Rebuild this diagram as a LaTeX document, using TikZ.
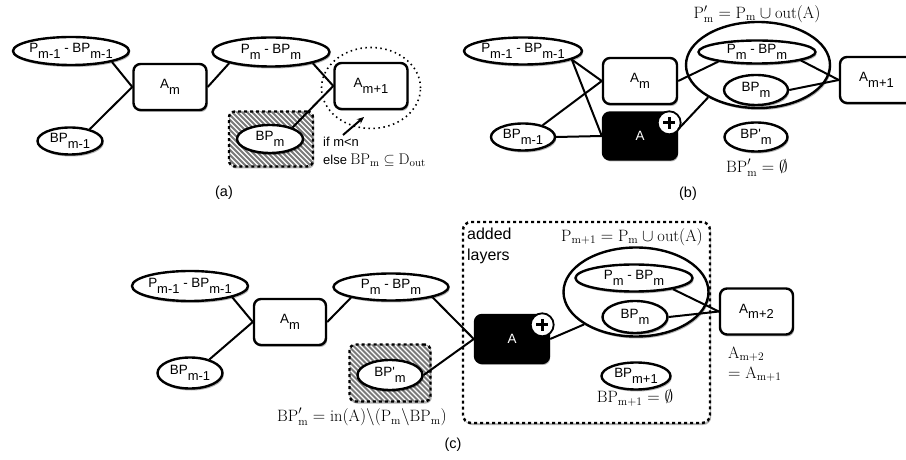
\documentclass[tikz,border=0pt]{standalone}
\usepackage{fontspec}
\newfontfamily\hv{Liberation Sans}
\usetikzlibrary{shapes.geometric,shadows,arrows.meta,calc}
\newcommand\sbx[1]{\raisebox{-5.5bp}{\fontsize{13}{13}\selectfont #1}}
\newcommand\zb[1]{\makebox[0pt][c]{#1}}
\newcommand\mysz{\fontsize{16.5}{19}\selectfont}
\tikzset{
 shd/.style={drop shadow={shadow xshift=1.2bp,shadow yshift=-2bp,opacity=0.3,fill=black}},
 ell/.style={ellipse,draw,line width=2.4bp,fill=white,inner sep=0pt,shd,font=\hv\fontsize{13.5}{15}\selectfont},
 abox/.style={rectangle,rounded corners=7bp,draw,line width=2.4bp,fill=white,minimum width=73bp,minimum height=46bp,inner sep=0pt,shd,font=\hv\fontsize{13.5}{15}\selectfont},
 blk/.style={abox,fill=black,text=white},
 pls/.style={circle,draw,fill=white,line width=1.8bp,minimum size=23bp,inner sep=0pt,
   path picture={
     \draw[line width=3bp] ([xshift=-6bp]path picture bounding box.center) -- ([xshift=6bp]path picture bounding box.center);
     \draw[line width=3bp] ([yshift=-6bp]path picture bounding box.center) -- ([yshift=6bp]path picture bounding box.center);}},
 conn/.style={line width=2bp},
 hatch/.style={rectangle,rounded corners=6bp,draw,line width=2.4bp,dash pattern=on 3bp off 3bp,shd,fill=black!52,inner sep=0pt,
   path picture={
     \foreach \i in {-70,-65,...,100}
       \draw[white,solid,line width=1.4bp] ($(path picture bounding box.north west)+(\i,0)$) -- ++(75,75);}},
 mth/.style={font=\mysz,inner sep=0pt},
 sf/.style={font=\hv\fontsize{13}{15}\selectfont,inner sep=0pt},
 captxt/.style={font=\hv\fontsize{14.5}{16}\selectfont,inner sep=0pt},
 dashbox/.style={rectangle,rounded corners=8bp,draw,line width=2.4bp,dash pattern=on 3bp off 3bp,fill=white,shd,inner sep=0pt},
}
\begin{document}
\begin{tikzpicture}[x=1bp,y=-1bp]
\clip (0,0) rectangle (906,460);
\fill[white] (0,0) rectangle (906,460);

% ---------- panel (a)
\node[ell,minimum width=116bp,minimum height=28bp] (a1) at (71,51) {\zb{P\sbx{m-1} - BP\sbx{m-1}}};
\node[abox] (a2) at (170,87) {A\sbx{m}};
\node[ell,minimum width=65bp,minimum height=27bp] (a3) at (70,141) {\zb{BP\sbx{m-1}}};
\node[ell,minimum width=117bp,minimum height=29bp] (a4) at (271,52) {\zb{P\sbx{m} - BP\sbx{m}}};
\node[abox] (a5) at (371,86) {A\sbx{m+1}};
\node[ellipse,draw,line width=1.6bp,dash pattern=on 1.5bp off 3.5bp,minimum width=99bp,minimum height=81bp] (a6) at (371,88) {};
\node[hatch,minimum width=84bp,minimum height=55bp] (a7) at (271,139) {};
\node[ell,minimum width=66bp,minimum height=28bp] (a8) at (270,139) {\zb{BP\sbx{m}}};
\node[sf,anchor=west] (ifm) at (323,142) {if m<n};
\node[anchor=west,inner sep=0pt] (els) at (323,160) {{\hv\fontsize{13}{15}\selectfont else} {\fontsize{15.5}{18}\selectfont$\mathrm{BP}_{\mathrm{m}}\subseteq\mathrm{D}_{\mathrm{out}}$}};
\coordinate (arrT) at (343,135);
\coordinate (arrH) at (364,117);
\node[captxt] (la) at (224,193) {(a)};

\draw[conn] (a1.-15) -- (a2.west);
\draw[conn] (a3.31) -- (a2.west);
\draw[conn] (a2.east) -- (a4.195);
\draw[conn] (a4.-15) -- (a5.west);
\draw[conn] (a8.27) -- (a5.west);
\draw[conn,-{Stealth[length=7bp,width=6bp]}] (arrT) -- (arrH);

% ---------- panel (b)
\node[mth] (bt) at (757,14) {$\mathrm{P}'_{\mathrm{m}}=\mathrm{P}_{\mathrm{m}}\cup\mathrm{out}(\mathrm{A})$};
\node[ell,minimum width=118bp,minimum height=27bp] (b1) at (523,51) {\zb{P\sbx{m-1} - BP\sbx{m-1}}};
\node[abox,minimum width=74bp] (b2) at (640,81) {A\sbx{m}};
\node[blk,minimum width=74bp,minimum height=47bp] (b3) at (640,136) {A};
\node[pls] (bp) at ($(b3.north east)+(-9,11.5)$) {};
\node[ell,minimum width=64bp,minimum height=27bp] (b4) at (523,137) {\zb{BP\sbx{m-1}}};
\node[ell,minimum width=144bp,minimum height=86bp] (b5) at (758,65) {};
\node[ell,minimum width=117bp,minimum height=23bp] (b6) at (757,52) {\zb{P\sbx{m} - BP\sbx{m}}};
\node[ell,minimum width=64bp,minimum height=30bp] (b7) at (756,90) {\zb{BP\sbx{m}}};
\node[abox] (b8) at (876.5,80) {A\sbx{m+1}};
\node[ell,minimum width=63bp,minimum height=29bp] (b9) at (756,137) {\zb{BP\textquotesingle\sbx{m}}};
\node[mth] (bq) at (757,168) {$\mathrm{BP}'_{\mathrm{m}}=\emptyset$};
\node[captxt] (lb) at (688,194) {(b)};

\draw[conn] (b1.-10) -- (b2.west);
\draw[conn] (b1.-10) -- (b3.west);
\draw[conn] (b4.31) -- (b2.west);
\draw[conn] (b4.east) -- (b3.west);
\draw[conn] (b2.east) -- (b6.194);
\draw[conn] (b3.10) -- (b5.213);
\draw[conn] (b6.-11) -- (b8.west);
\draw[conn] (b7.east) -- (b8.west);

% ---------- panel (c)
\node[dashbox,minimum width=247bp,minimum height=201bp] (c7) at (586.5,322.5) {};
\node[anchor=north west,align=left,inner sep=0pt,font=\hv\fontsize{16}{20.5}\selectfont] (cadd) at (467,228) {added\\layers};
\node[mth] (ct) at (632,237) {$\mathrm{P}_{\mathrm{m+1}}=\mathrm{P}_{\mathrm{m}}\cup\mathrm{out}(\mathrm{A})$};
\node[ell,minimum width=116bp,minimum height=30bp] (c1) at (190,286) {\zb{P\sbx{m-1} - BP\sbx{m-1}}};
\node[abox,minimum width=72bp] (c2) at (290,322) {A\sbx{m}};
\node[ell,minimum width=65bp,minimum height=31bp] (c3) at (190,373) {\zb{BP\sbx{m-1}}};
\node[ell,minimum width=115bp,minimum height=27bp] (c4) at (391,287) {\zb{P\sbx{m} - BP\sbx{m}}};
\node[hatch,minimum width=81bp,minimum height=57bp] (c5) at (390,373) {};
\node[ell,minimum width=65bp,minimum height=30bp] (c6) at (390,375) {\zb{BP\textquotesingle\sbx{m}}};
\node[mth] (cf) at (362,417) {$\mathrm{BP}'_{\mathrm{m}}=\mathrm{in}(\mathrm{A})\backslash(\mathrm{P}_{\mathrm{m}}\backslash\mathrm{BP}_{\mathrm{m}})$};
\node[blk,minimum width=74bp,minimum height=48bp] (c8) at (512,339) {A};
\node[pls] (cp) at ($(c8.north east)+(-8,11)$) {};
\node[ell,minimum width=145bp,minimum height=89bp] (c10) at (636,292) {};
\node[ell,minimum width=117bp,minimum height=27bp] (c11) at (634,278) {\zb{P\sbx{m} - BP\sbx{m}}};
\node[ell,minimum width=65bp,minimum height=32bp] (c12) at (635,317) {\zb{BP\sbx{m}}};
\node[abox] (c13) at (756.5,311.5) {A\sbx{m+2}};
\node[ell,minimum width=69bp,minimum height=27bp] (c14) at (636,376) {\zb{BP\sbx{m+1}}};
\node[mth] (cq) at (635,398) {$\mathrm{BP}_{\mathrm{m+1}}=\emptyset$};
\node[mth,anchor=west] (ce1) at (728,354) {$\mathrm{A}_{\mathrm{m+2}}$};
\node[mth,anchor=west] (ce2) at (728,374) {$=\mathrm{A}_{\mathrm{m+1}}$};
\node[captxt] (lc) at (453,445) {(c)};

\draw[conn] (c1.-15) -- (c2.west);
\draw[conn] (c3.35) -- (c2.west);
\draw[conn] (c2.east) -- (c4.195);
\draw[conn] (c4.-14) -- (c8.west);
\draw[conn] (c6.east) -- (c8.west);
\draw[conn] (c8.east) -- (c10.212);
\draw[conn] (c11.-16) -- (c13.west);
\draw[conn] (c12.east) -- (c13.west);
\end{tikzpicture}
\end{document}
